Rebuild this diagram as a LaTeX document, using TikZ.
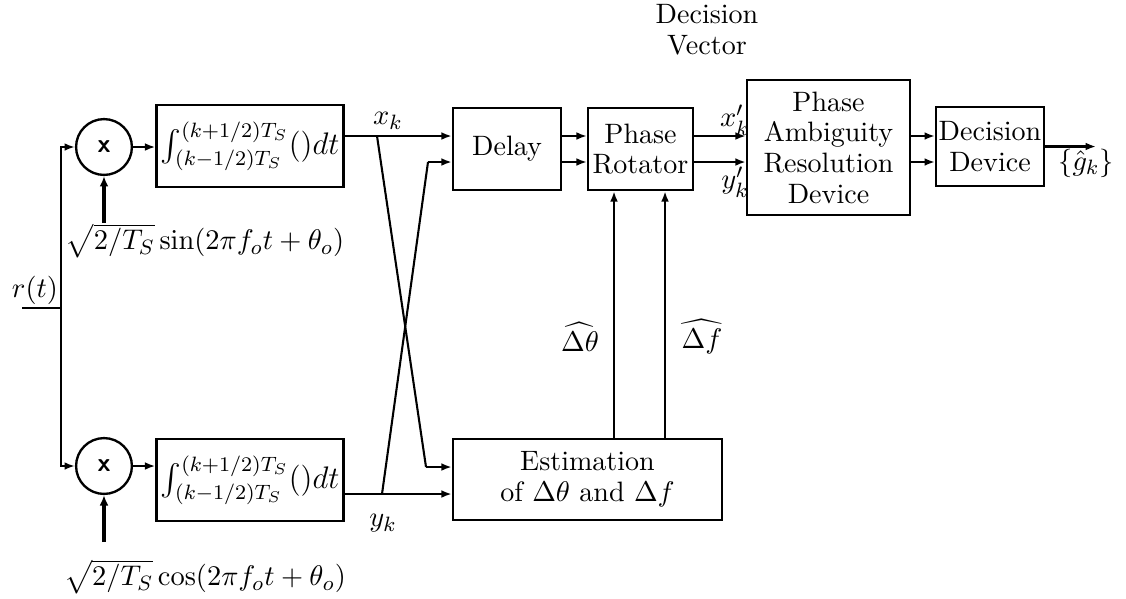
\documentclass[tikz,border=0pt]{standalone}
\usepackage{amsmath,amssymb}
\usetikzlibrary{positioning,arrows.meta}

\begin{document}
\begin{tikzpicture}[
  x=0.385pt, y=-0.385pt,
  every node/.style={font=\fontsize{10.8}{11.8}\selectfont},
  block/.style={
    draw, line width=0.9pt,
    align=center, inner sep=1pt
  },
  mixer/.style={
    draw, circle, line width=0.9pt,
    minimum size=21.5pt, inner sep=0pt,
    font=\sffamily\bfseries
  },
  intlabel/.style={font=\fontsize{12}{14}\selectfont},
  arrow/.style={-{Latex[length=4pt,width=3pt]}, line width=0.8pt},
  thickarrow/.style={-{Latex[length=4pt,width=3.4pt]}, line width=1.4pt},
  wire/.style={line width=0.8pt}
]
\useasboundingbox (0,0) rectangle (1126,598);

% --- Mischer und Integratoren ---
\node[mixer] (mixI) at (104,147) {x};
\node[mixer] (mixQ) at (104,466) {x};
\node[block, intlabel, minimum width=72pt, minimum height=31.6pt] (intI) at (250,146)
  {$\int_{(k-1/2)T_S}^{(k+1/2)T_S}()dt$};
\node[block, intlabel, minimum width=72pt, minimum height=31.6pt] (intQ) at (250,480)
  {$\int_{(k-1/2)T_S}^{(k+1/2)T_S}()dt$};

% --- Verarbeitungsblöcke ---
\node[block, minimum width=41.6pt, minimum height=31.6pt] (delay) at (507,149) {Delay};
\node[block, minimum width=40.4pt, minimum height=31.6pt] (rot) at (640.5,149) {Phase\\Rotator};
\node[block, minimum width=62.8pt, minimum height=52pt] (par) at (828.5,147.5)
  {Phase\\Ambiguity\\Resolution\\Device};
\node[block, minimum width=40.8pt, minimum height=30.4pt] (dec) at (990,146.5) {Decision\\Device};
\node[block, minimum width=103.6pt, minimum height=31.2pt] (est) at (587.5,479.5)
  {Estimation\\of $\Delta\theta$ and $\Delta f$};

% --- Beschriftungen ---
\node[align=center] (dvec) at (707,30) {Decision\\Vector};
\node (lblr) at (35,290) {$r(t)$};
\node[inner sep=0pt] (lblsin) at (205,241) {$\sqrt{2/T_S}\sin(2\pi f_o t+\theta_o)$};
\node[inner sep=0pt] (lblcos) at (205,577) {$\sqrt{2/T_S}\cos(2\pi f_o t+\theta_o)$};
\node (lblxk) at (388,121) {$x_k$};
\node (lblyk) at (383,523) {$y_k$};
\node (lblxp) at (735,120) {$x'_k$};
\node (lblyp) at (735,182) {$y'_k$};
\node (lbldth) at (580,337) {$\widehat{\Delta\theta}$};
\node (lbldf) at (702,337) {$\widehat{\Delta f}$};
\node (lblg) at (1086,163) {$\{\hat{g}_k\}$};

% --- Hilfspunkte ---
\coordinate (rowA) at (0,136);
\coordinate (rowB) at (0,162);
\coordinate (rowC) at (0,467);
\coordinate (rowD) at (0,494);
\coordinate (rin) at (22,308);
\coordinate (bus) at (61,308);
\coordinate (tapI) at (377,136);
\coordinate (tapQ) at (382,494);
\coordinate (bendI) at (426,467);
\coordinate (bendQ) at (428,162);
\coordinate (fbA) at (614,0);
\coordinate (fbB) at (665,0);
\coordinate (gout) at (1096,146.5);

% --- Eingang ---
\draw[wire] (rin) -- (bus);
\draw[arrow] (bus) |- (mixI.west);
\draw[arrow] (bus) |- (mixQ.west);
\draw[thickarrow] (lblsin.north -| mixI) -- (mixI.south);
\draw[thickarrow] ([yshift=6.5pt]lblcos.north -| mixQ) -- (mixQ.south);
\draw[arrow] (mixI.east) -- (intI.west |- mixI.east);
\draw[arrow] (mixQ.east) -- (intQ.west |- mixQ.east);

% --- Kreuzung ---
\draw[wire] (intI.east |- rowA) -- (tapI);
\draw[arrow] (tapI) -- (delay.west |- rowA);
\draw[wire] (tapI) -- (bendI);
\draw[arrow] (bendI) -- (est.west |- rowC);
\draw[wire] (intQ.east |- rowD) -- (tapQ);
\draw[arrow] (tapQ) -- (est.west |- rowD);
\draw[wire] (tapQ) -- (bendQ);
\draw[arrow] (bendQ) -- (delay.west |- rowB);

% --- Hauptpfad ---
\draw[arrow] (delay.east |- rowA) -- (rot.west |- rowA);
\draw[arrow] (delay.east |- rowB) -- (rot.west |- rowB);
\draw[arrow] (rot.east |- rowA) -- (par.west |- rowA);
\draw[arrow] (rot.east |- rowB) -- (par.west |- rowB);
\draw[arrow] (par.east |- rowA) -- (dec.west |- rowA);
\draw[arrow] (par.east |- rowB) -- (dec.west |- rowB);
\draw[arrow] (dec.east) -- (gout);

% --- Rückführung ---
\draw[arrow] (est.north -| fbA) -- (rot.south -| fbA);
\draw[arrow] (est.north -| fbB) -- (rot.south -| fbB);

\end{tikzpicture}
\end{document}
